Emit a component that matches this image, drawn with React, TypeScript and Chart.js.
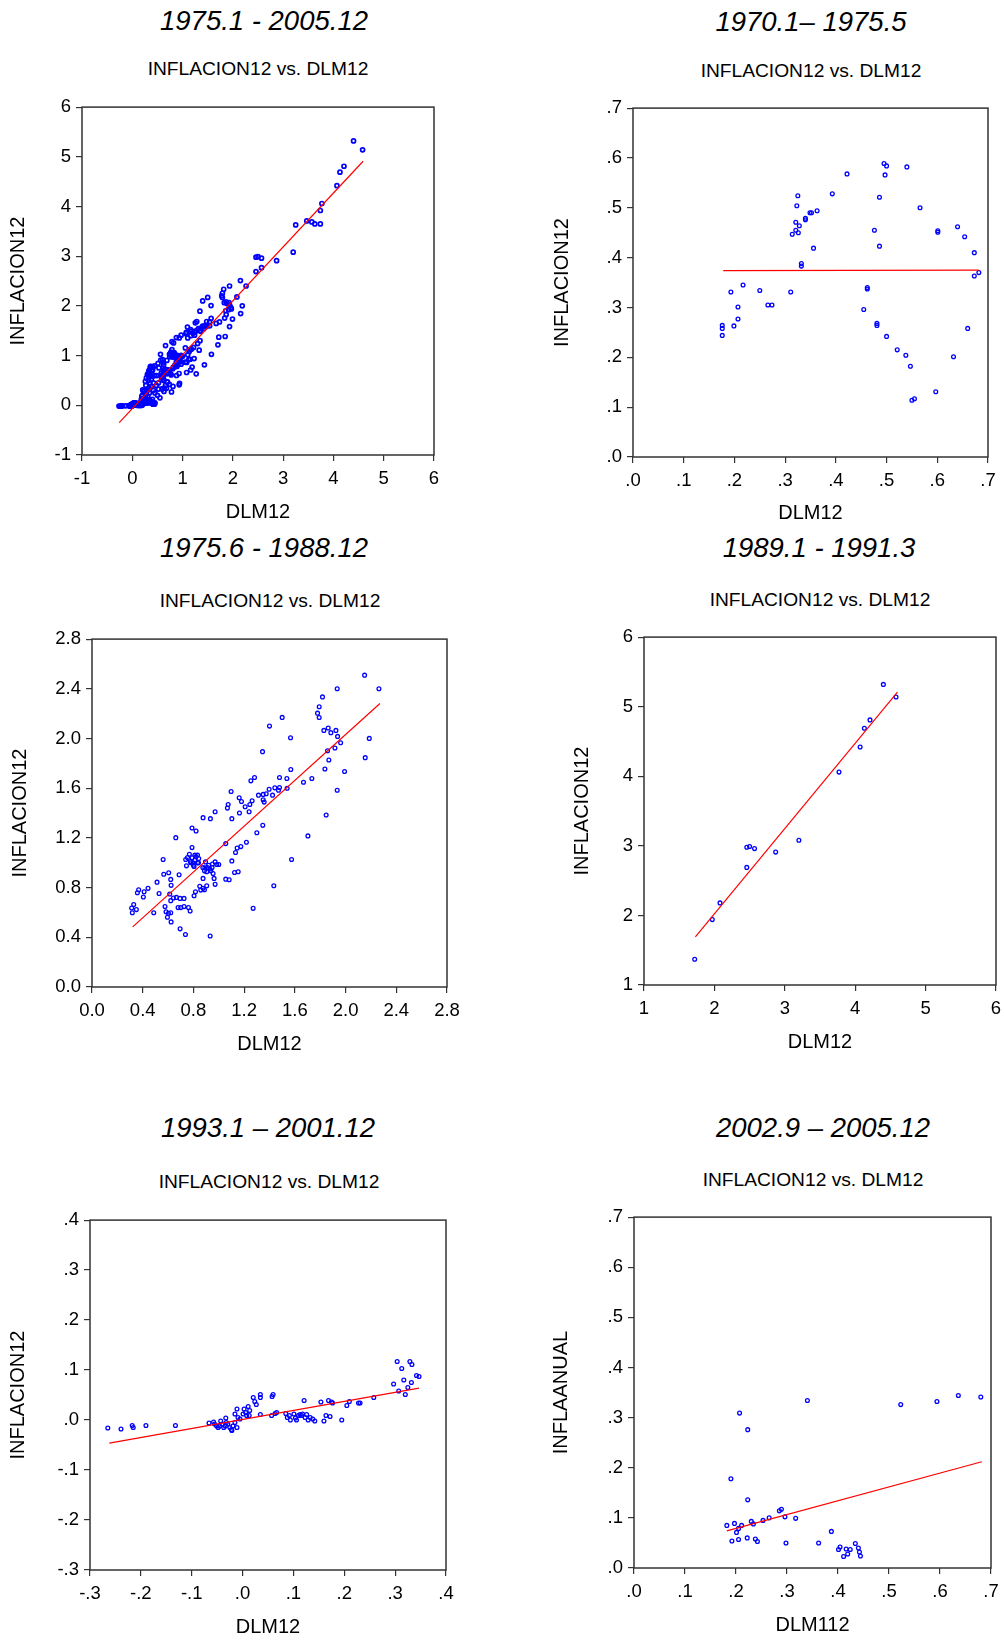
import React, { useEffect, useRef } from "react";
import { Chart, registerables } from "chart.js";

Chart.register(...registerables);

type Pt = [number, number];

const FONT = "'Liberation Sans', Arial, Helvetica, sans-serif";

// ---------- DATA ----------
// 1975.6 - 1988.12 : [DLM12, INFLACION12]
const p3Points: Pt[] = [
  [2.15, 2.51], [1.934, 2.4], [2.263, 2.4], [1.818, 2.335], [1.792, 2.255], [1.779, 2.204], [1.792, 2.169],
  [1.5, 2.17], [1.4, 2.1], [1.566, 2.006], [1.829, 2.065], [1.863, 2.084], [1.924, 2.065], [1.884, 2.047],
  [1.937, 2.017], [1.961, 1.966], [2.187, 2.001], [1.916, 1.924], [1.858, 1.902], [1.345, 1.894], [1.868, 1.827],
  [2.155, 1.846], [1.837, 1.755], [1.568, 1.75], [1.992, 1.734], [1.282, 1.686], [1.253, 1.659], [1.479, 1.686],
  [1.537, 1.678], [1.734, 1.678], [1.668, 1.648], [1.397, 1.592], [1.442, 1.603], [1.479, 1.606], [1.471, 1.584],
  [1.539, 1.6], [1.934, 1.584], [1.097, 1.574], [1.313, 1.544], [1.35, 1.55], [1.374, 1.555], [1.424, 1.544],
  [1.35, 1.507], [1.358, 1.488], [1.263, 1.499], [1.161, 1.523], [1.179, 1.493], [1.245, 1.469], [1.208, 1.451],
  [1.074, 1.469], [1.068, 1.44], [1.239, 1.411], [1.163, 1.4], [0.971, 1.411], [0.876, 1.363], [0.934, 1.355],
  [1.103, 1.355], [1.847, 1.384], [1.347, 1.301], [1.3, 1.242], [0.789, 1.28], [0.821, 1.256], [0.661, 1.202],
  [1.703, 1.216], [1.218, 1.165], [1.055, 1.154], [1.174, 1.13], [1.145, 1.119], [0.789, 1.122], [1.132, 1.082],
  [0.768, 1.069], [0.753, 1.042], [0.811, 1.061], [0.832, 1.061], [0.842, 1.034], [0.739, 1.026], [0.561, 1.026],
  [1.574, 1.026], [0.776, 1.01], [0.797, 0.999], [0.832, 0.999], [0.895, 1.007], [0.971, 1.007], [0.984, 0.986],
  [1.0, 0.986], [1.103, 1.015], [0.745, 0.975], [0.805, 0.97], [0.874, 0.962], [0.911, 0.962], [0.947, 0.962],
  [0.887, 0.935], [0.905, 0.927], [0.937, 0.935], [0.955, 0.914], [1.153, 0.927], [1.124, 0.922], [0.687, 0.903],
  [0.605, 0.919], [0.566, 0.908], [0.876, 0.874], [0.963, 0.874], [1.055, 0.868], [1.082, 0.863], [0.621, 0.866],
  [0.513, 0.844], [0.624, 0.818], [0.85, 0.81], [0.905, 0.815], [0.971, 0.826], [1.434, 0.815], [0.876, 0.794],
  [0.858, 0.78], [0.887, 0.783], [0.442, 0.794], [0.368, 0.783], [0.358, 0.759], [0.411, 0.767], [0.529, 0.753],
  [0.816, 0.767], [0.613, 0.748], [0.405, 0.724], [0.805, 0.735], [0.666, 0.721], [0.642, 0.716], [0.695, 0.713],
  [0.726, 0.713], [0.621, 0.695], [0.329, 0.663], [0.313, 0.636], [0.35, 0.623], [0.318, 0.598], [0.576, 0.647],
  [0.679, 0.639], [0.7, 0.639], [0.726, 0.647], [0.761, 0.639], [0.774, 0.612], [1.271, 0.633], [0.584, 0.606],
  [0.603, 0.593], [0.621, 0.598], [0.487, 0.598], [0.595, 0.561], [0.624, 0.524], [0.695, 0.468], [0.737, 0.422],
  [0.932, 0.411], [0.79, 1.04], [0.81, 1.02], [0.82, 1.05], [0.8, 0.98], [0.84, 1.0], [0.78, 1.0], [0.93, 0.95],
  [0.92, 0.98], [0.95, 0.99], [0.89, 0.96],
];
const p3Fit: Pt[] = [[0.321, 0.484], [2.271, 2.282]];

// 1970.1 - 1975.5
const p2Points: Pt[] = [
  [0.176, 0.264], [0.176, 0.258], [0.176, 0.244], [0.193, 0.331], [0.199, 0.263], [0.207, 0.301], [0.207, 0.277],
  [0.217, 0.345], [0.25, 0.334], [0.266, 0.305], [0.274, 0.305], [0.311, 0.331], [0.314, 0.447], [0.321, 0.471],
  [0.321, 0.455], [0.323, 0.504], [0.325, 0.524], [0.326, 0.45], [0.328, 0.464], [0.332, 0.388], [0.332, 0.383],
  [0.34, 0.476], [0.34, 0.479], [0.349, 0.49], [0.352, 0.49], [0.363, 0.494], [0.356, 0.419], [0.393, 0.528],
  [0.422, 0.568], [0.455, 0.296], [0.462, 0.337], [0.462, 0.34], [0.476, 0.455], [0.481, 0.264], [0.481, 0.268],
  [0.486, 0.521], [0.486, 0.423], [0.495, 0.589], [0.497, 0.566], [0.5, 0.584], [0.5, 0.242], [0.521, 0.215],
  [0.538, 0.204], [0.54, 0.582], [0.547, 0.182], [0.55, 0.114], [0.555, 0.117], [0.566, 0.5], [0.597, 0.131],
  [0.601, 0.451], [0.601, 0.454], [0.632, 0.201], [0.64, 0.462], [0.654, 0.442], [0.673, 0.41], [0.673, 0.363],
  [0.682, 0.37], [0.66, 0.258],
];
const p2Fit: Pt[] = [[0.178, 0.374], [0.682, 0.375]];

// 1989.1 - 1991.3
const p4Points: Pt[] = [
  [1.72, 1.37], [1.97, 1.94], [2.08, 2.18], [2.46, 2.98], [2.5, 2.99], [2.57, 2.96], [2.46, 2.69], [2.87, 2.91],
  [3.2, 3.08], [3.77, 4.06], [4.07, 4.42], [4.13, 4.69], [4.21, 4.81], [4.4, 5.32], [4.58, 5.14],
];
const p4Fit: Pt[] = [[1.73, 1.69], [4.6, 5.21]];

// 1993.1 - 2001.12
const p5Points: Pt[] = [
  [-0.265, -0.016], [-0.239, -0.018], [-0.217, -0.011], [-0.215, -0.015], [-0.19, -0.011], [-0.132, -0.011],
  [-0.066, -0.006], [-0.057, -0.004], [-0.055, -0.008], [-0.051, -0.012], [-0.048, -0.015], [-0.045, -0.012],
  [-0.043, -0.002], [-0.04, -0.008], [-0.037, -0.015], [-0.034, -0.012], [-0.032, -0.005], [-0.033, 0.004],
  [-0.029, -0.008], [-0.025, -0.015], [-0.022, -0.019], [-0.019, -0.012], [-0.021, -0.021], [-0.015, -0.005],
  [-0.011, -0.015], [-0.015, 0.012], [-0.011, 0.022], [-0.009, 0.005], [-0.005, 0.002], [0.001, 0.012],
  [0.003, 0.022], [0.006, 0.015], [0.008, 0.009], [0.011, 0.027], [0.014, 0.019], [0.013, 0.009], [0.021, 0.045],
  [0.024, 0.037], [0.027, 0.031], [0.035, 0.051], [0.035, 0.045], [0.035, 0.011], [0.058, 0.047], [0.06, 0.051],
  [0.057, 0.009], [0.064, 0.013], [0.067, 0.015], [0.085, 0.013], [0.088, 0.005], [0.092, 0.009], [0.094, 0.0],
  [0.101, 0.012], [0.104, 0.004], [0.106, 0.0], [0.11, 0.009], [0.113, 0.011], [0.116, 0.009], [0.118, 0.012],
  [0.121, 0.039], [0.123, 0.005], [0.126, 0.011], [0.129, 0.0], [0.133, 0.005], [0.138, 0.002], [0.142, -0.002],
  [0.154, 0.036], [0.16, -0.002], [0.164, 0.009], [0.169, 0.039], [0.172, 0.007], [0.175, 0.036], [0.177, 0.034],
  [0.195, 0.0], [0.205, 0.029], [0.21, 0.037], [0.228, 0.034], [0.231, 0.034], [0.258, 0.045], [0.297, 0.072],
  [0.304, 0.117], [0.307, 0.058], [0.313, 0.103], [0.317, 0.08], [0.32, 0.051], [0.325, 0.065], [0.329, 0.117],
  [0.332, 0.075], [0.333, 0.111], [0.342, 0.089], [0.347, 0.087],
];
const p5Fit: Pt[] = [[-0.262, -0.046], [0.347, 0.064]];

// 2002.9 - 2005.12 : [DLM112, INFLAANUAL]
const p6Points: Pt[] = [
  [0.182, 0.085], [0.192, 0.054], [0.19, 0.178], [0.197, 0.089], [0.201, 0.071], [0.205, 0.079], [0.205, 0.057],
  [0.207, 0.309], [0.211, 0.085], [0.222, 0.06], [0.223, 0.276], [0.223, 0.136], [0.23, 0.093], [0.234, 0.088],
  [0.238, 0.058], [0.242, 0.053], [0.253, 0.095], [0.265, 0.1], [0.285, 0.114], [0.289, 0.117], [0.296, 0.102],
  [0.298, 0.05], [0.317, 0.099], [0.34, 0.334], [0.362, 0.05], [0.387, 0.073], [0.401, 0.037], [0.404, 0.042],
  [0.411, 0.023], [0.416, 0.038], [0.419, 0.028], [0.424, 0.037], [0.434, 0.049], [0.44, 0.04], [0.442, 0.032],
  [0.444, 0.024], [0.523, 0.326], [0.594, 0.332], [0.636, 0.344], [0.68, 0.341],
];
const p6Fit: Pt[] = [[0.182, 0.074], [0.682, 0.212]];

// 1975.1 - 2005.12 : months not shown in the sub-period panels
const p1Extra: Pt[] = [
  [0.78, 0.27], [0.81, 0.38], [0.94, 0.44], [0.88, 0.6], [0.93, 0.64], [1.08, 0.66], [1.16, 0.71], [1.19, 0.77],
  [1.23, 0.94], [1.33, 1.11], [0.22, 0.1], [0.25, 0.15], [0.28, 0.22], [0.3, 0.3], [0.33, 0.35], [0.35, 0.45],
  [0.38, 0.52], [0.4, 0.58], [0.3, 0.62], [0.33, 0.7], [0.27, 0.4], [0.24, 0.3], [0.2, 0.2], [0.42, 0.3],
  [0.45, 0.25], [0.5, 0.2], [0.55, 0.15], [0.48, 0.4], [0.52, 0.45], [0.6, 0.33], [0.63, 0.28], [0.66, 0.4],
  [0.7, 0.47], [0.15, 0.05], [0.1, 0.03], [0.05, 0.02], [0.18, 0.12], [0.36, 0.78], [0.4, 0.7], [0.45, 0.6],
  [0.58, 0.55], [0.62, 0.5], [0.3, 0.05], [0.35, 0.1], [0.4, 0.12], [0.45, 0.05], [2.57, 2.77], [3.25, 3.63],
  [3.47, 3.71], [3.57, 3.69], [3.63, 3.65], [3.74, 3.65], [3.74, 3.92], [0.32, 0.5], [0.36, 0.6], [0.28, 0.55],
  [0.26, 0.48], [0.42, 0.45], [0.38, 0.38], [0.34, 0.25], [0.31, 0.18],
];
const p1Points: Pt[] = [...p3Points, ...p4Points, ...p5Points, ...p6Points, ...p1Extra];
const p1Fit: Pt[] = [[-0.26, -0.35], [4.59, 4.91]];

// tick values / labels
const ticksP1 = [-1, 0, 1, 2, 3, 4, 5, 6];
const labelsP1 = ["-1", "0", "1", "2", "3", "4", "5", "6"];
const ticksP2 = [0, 0.1, 0.2, 0.3, 0.4, 0.5, 0.6, 0.7];
const labelsP2 = [".0", ".1", ".2", ".3", ".4", ".5", ".6", ".7"];
const ticksP3 = [0, 0.4, 0.8, 1.2, 1.6, 2.0, 2.4, 2.8];
const labelsP3 = ["0.0", "0.4", "0.8", "1.2", "1.6", "2.0", "2.4", "2.8"];
const ticksP4 = [1, 2, 3, 4, 5, 6];
const labelsP4 = ["1", "2", "3", "4", "5", "6"];
const ticksP5 = [-0.3, -0.2, -0.1, 0, 0.1, 0.2, 0.3, 0.4];
const labelsP5 = ["-.3", "-.2", "-.1", ".0", ".1", ".2", ".3", ".4"];

const periodTitles = ["1975.1 - 2005.12", "1970.1\u2013 1975.5", "1975.6 - 1988.12", "1989.1 - 1991.3", "1993.1 \u2013 2001.12", "2002.9 \u2013 2005.12"];
const subTitle = "INFLACION12 vs. DLM12";

// ---------- LAYOUT ----------
interface PanelCfg {
  points: Pt[];
  fit: Pt[];
  ticks: number[];
  labels: string[];
  xTitle: string;
  yTitle: string;
  title: string;
  L: number; T: number; R: number; B: number;
  yTitleX: number; xTitleY: number; canvasLeft: number;
  titleX: number; titleY: number; subX: number; subY: number;
  r: number; bw: number;
}

const panels: PanelCfg[] = [
  { points: p1Points, fit: p1Fit, ticks: ticksP1, labels: labelsP1, xTitle: "DLM12", yTitle: "INFLACION12", title: periodTitles[0],
    L: 82, T: 103, R: 434, B: 455, yTitleX: 18, xTitleY: 512, canvasLeft: 0, titleX: 264, titleY: 21, subX: 258, subY: 69, r: 2, bw: 1.7 },
  { points: p2Points, fit: p2Fit, ticks: ticksP2, labels: labelsP2, xTitle: "DLM12", yTitle: "INFLACION12", title: periodTitles[1],
    L: 633, T: 104, R: 988, B: 457, yTitleX: 562, xTitleY: 513, canvasLeft: 540, titleX: 811, titleY: 22, subX: 811, subY: 71, r: 1.9, bw: 1.3 },
  { points: p3Points, fit: p3Fit, ticks: ticksP3, labels: labelsP3, xTitle: "DLM12", yTitle: "INFLACION12", title: periodTitles[2],
    L: 92, T: 635, R: 447, B: 987, yTitleX: 20, xTitleY: 1044, canvasLeft: 0, titleX: 264, titleY: 548, subX: 270, subY: 601, r: 1.9, bw: 1.3 },
  { points: p4Points, fit: p4Fit, ticks: ticksP4, labels: labelsP4, xTitle: "DLM12", yTitle: "INFLACION12", title: periodTitles[3],
    L: 644, T: 633, R: 996, B: 985, yTitleX: 582, xTitleY: 1042, canvasLeft: 540, titleX: 819, titleY: 548, subX: 820, subY: 600, r: 1.9, bw: 1.3 },
  { points: p5Points, fit: p5Fit, ticks: ticksP5, labels: labelsP5, xTitle: "DLM12", yTitle: "INFLACION12", title: periodTitles[4],
    L: 90, T: 1216, R: 446, B: 1570, yTitleX: 18, xTitleY: 1627, canvasLeft: 0, titleX: 268, titleY: 1128, subX: 269, subY: 1182, r: 1.9, bw: 1.3 },
  { points: p6Points, fit: p6Fit, ticks: ticksP2, labels: labelsP2, xTitle: "DLM112", yTitle: "INFLAANUAL", title: periodTitles[5],
    L: 634, T: 1213, R: 991, B: 1568, yTitleX: 561, xTitleY: 1625, canvasLeft: 540, titleX: 823, titleY: 1128, subX: 813, subY: 1180, r: 1.9, bw: 1.3 },
];

const TITLE_SIZE = 20;
const TITLE_LH = 1.2;
const HALF = (TITLE_SIZE * TITLE_LH) / 2;
const PAD_TOP = 12;
const PAD_RIGHT = 22;

const framePlugin = {
  id: "frame",
  beforeDatasetsDraw(chart: any) {
    const { ctx, chartArea } = chart;
    const { left, top, right, bottom } = chartArea;
    ctx.save();
    ctx.strokeStyle = "#333333";
    ctx.lineWidth = 1.5;
    ctx.strokeRect(left, top, right - left, bottom - top);
    ctx.restore();
  },
};

function Panel({ cfg }: { cfg: PanelCfg }) {
  const ref = useRef<HTMLCanvasElement | null>(null);
  const canvasTop = cfg.T - PAD_TOP;
  const canvasBottom = cfg.xTitleY + 18;
  const canvasRight = cfg.R + PAD_RIGHT;
  const width = canvasRight - cfg.canvasLeft;
  const height = canvasBottom - canvasTop;
  const yW = cfg.L - cfg.canvasLeft;
  const xH = canvasBottom - cfg.B;
  const xTitlePad = canvasBottom - cfg.xTitleY - HALF;
  const yTitlePad = cfg.yTitleX - cfg.canvasLeft - HALF;

  useEffect(() => {
    if (!ref.current) return;
    const min = cfg.ticks[0];
    const max = cfg.ticks[cfg.ticks.length - 1];
    const tickFont = { family: FONT, size: 18.5 };
    const titleFont = { family: FONT, size: TITLE_SIZE, lineHeight: TITLE_LH };
    const grid = { drawOnChartArea: false, drawTicks: true, tickLength: 6, color: "#333333", lineWidth: 1.2 };
    const chart = new Chart(ref.current, {
      type: "scatter",
      data: {
        datasets: [
          {
            data: cfg.fit.map(([x, y]) => ({ x, y })),
            showLine: true,
            borderColor: "#ff0000",
            borderWidth: 1.2,
            pointRadius: 0,
            order: 0,
          },
          {
            data: cfg.points.map(([x, y]) => ({ x, y })),
            showLine: false,
            pointStyle: "circle",
            pointRadius: cfg.r,
            pointBorderWidth: cfg.bw,
            borderColor: "#0000ff",
            backgroundColor: "rgba(0,0,0,0)",
            order: 1,
          },
        ],
      },
      options: {
        responsive: false,
        animation: false,
        events: [],
        layout: { padding: { top: PAD_TOP, right: PAD_RIGHT, left: 0, bottom: 0 } },
        plugins: { legend: { display: false }, tooltip: { enabled: false }, title: { display: false } },
        scales: {
          x: {
            type: "linear",
            min,
            max,
            afterBuildTicks: (s: any) => {
              s.ticks = cfg.ticks.map((v) => ({ value: v }));
            },
            afterFit: (s: any) => {
              s.height = xH;
            },
            ticks: {
              callback: (_v: any, i: number) => cfg.labels[i],
              font: tickFont,
              color: "#000000",
              padding: 7,
              maxRotation: 0,
              autoSkip: false,
            },
            grid,
            border: { display: false },
            title: { display: true, text: cfg.xTitle, font: titleFont, color: "#000000", padding: { top: 0, bottom: xTitlePad } },
          },
          y: {
            type: "linear",
            min,
            max,
            afterBuildTicks: (s: any) => {
              s.ticks = cfg.ticks.map((v) => ({ value: v }));
            },
            afterFit: (s: any) => {
              s.width = yW;
            },
            ticks: {
              callback: (_v: any, i: number) => cfg.labels[i],
              font: tickFont,
              color: "#000000",
              padding: 5,
              autoSkip: false,
            },
            grid,
            border: { display: false },
            title: { display: true, text: cfg.yTitle, font: titleFont, color: "#000000", padding: { top: yTitlePad, bottom: 0 } },
          },
        },
      } as any,
      plugins: [framePlugin],
    });
    return () => chart.destroy();
  }, []);

  return (
    <>
      <div
        style={{
          position: "absolute",
          left: cfg.titleX,
          top: cfg.titleY,
          transform: "translate(-50%, -50%)",
          fontFamily: FONT,
          fontStyle: "italic",
          fontSize: 27.5,
          lineHeight: 1,
          whiteSpace: "nowrap",
          color: "#000",
        }}
      >
        {cfg.title}
      </div>
      <div
        style={{
          position: "absolute",
          left: cfg.subX,
          top: cfg.subY,
          transform: "translate(-50%, -50%)",
          fontFamily: FONT,
          fontSize: 19.2,
          lineHeight: 1,
          whiteSpace: "nowrap",
          color: "#000",
        }}
      >
        {subTitle}
      </div>
      <canvas
        ref={ref}
        width={width}
        height={height}
        style={{ position: "absolute", left: cfg.canvasLeft, top: canvasTop, width, height }}
      />
    </>
  );
}

export default function App() {
  return (
    <div
      style={{
        position: "absolute",
        left: 0,
        top: 0,
        width: 1004,
        height: 1640,
        overflow: "hidden",
        background: "#ffffff",
      }}
    >
      {panels.map((p, i) => (
        <Panel key={i} cfg={p} />
      ))}
    </div>
  );
}
